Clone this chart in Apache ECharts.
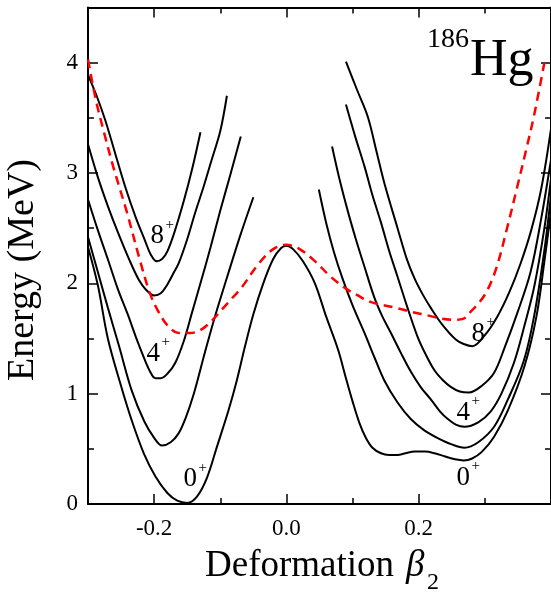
<!DOCTYPE html>
<html>
<head>
<meta charset="utf-8">
<script src="https://cdn.jsdelivr.net/npm/echarts@6/dist/echarts.min.js"></script>
<style>
html,body{margin:0;padding:0;background:#fff;}
#chart{width:551px;height:594px;}
</style>
</head>
<body>
<div id="chart"></div>
<script>
// ---- data (beta2, energy MeV) ----
var xTickLabels = [-0.2, 0.0, 0.2];
var xMinorTicks = [-0.1, 0.1, 0.3];
var yTickLabels = [0, 1, 2, 3, 4];
var yMinorTicks = [0.5, 1.5, 2.5, 3.5];

// 0+ curve across the whole range
var state0 = [[-0.3,2.33],[-0.285,1.98],[-0.27,1.5],[-0.25,1.07],[-0.234,0.76],[-0.215,0.45],[-0.198,0.25],[-0.18,0.1],[-0.165,0.03],[-0.15,0.01],[-0.135,0.07],[-0.12,0.24],[-0.105,0.52],[-0.088,0.84],[-0.075,1.12],[-0.063,1.42],[-0.05,1.72],[-0.035,2.0],[-0.02,2.22],[-0.008,2.32],[0.0,2.34],[0.01,2.31],[0.025,2.2],[0.043,2.0],[0.06,1.7],[0.078,1.4],[0.09,1.14],[0.1,0.93],[0.11,0.74],[0.12,0.6],[0.13,0.51],[0.143,0.46],[0.155,0.445],[0.168,0.445],[0.18,0.46],[0.194,0.475],[0.21,0.475],[0.224,0.46],[0.24,0.43],[0.255,0.405],[0.268,0.395],[0.28,0.41],[0.295,0.47],[0.314,0.61],[0.335,0.85],[0.36,1.25],[0.378,1.7],[0.39,2.2],[0.4,2.65]];
// left (oblate) well, 2+ .. 8+
var left2 = [[-0.3,2.42],[-0.285,2.1],[-0.27,1.78],[-0.253,1.43],[-0.234,1.03],[-0.215,0.75],[-0.2,0.6],[-0.188,0.53],[-0.175,0.56],[-0.163,0.64],[-0.153,0.77],[-0.14,1.0],[-0.123,1.38],[-0.108,1.7],[-0.09,2.05],[-0.07,2.43],[-0.05,2.78]];
var left4 = [[-0.3,2.76],[-0.285,2.48],[-0.269,2.2],[-0.255,1.95],[-0.24,1.72],[-0.228,1.52],[-0.217,1.35],[-0.207,1.21],[-0.198,1.14],[-0.19,1.14],[-0.18,1.18],[-0.168,1.28],[-0.155,1.48],[-0.143,1.73],[-0.13,2.0],[-0.115,2.32],[-0.1,2.66],[-0.085,2.98],[-0.069,3.33]];
var left6 = [[-0.3,3.26],[-0.285,2.96],[-0.27,2.7],[-0.254,2.45],[-0.238,2.22],[-0.223,2.03],[-0.212,1.94],[-0.2,1.89],[-0.19,1.91],[-0.18,1.99],[-0.17,2.1],[-0.163,2.18],[-0.15,2.4],[-0.138,2.64],[-0.125,2.88],[-0.113,3.12],[-0.1,3.38],[-0.09,3.7]];
var left8 = [[-0.3,3.89],[-0.287,3.7],[-0.274,3.48],[-0.26,3.2],[-0.244,2.88],[-0.228,2.6],[-0.214,2.39],[-0.205,2.26],[-0.196,2.2],[-0.188,2.22],[-0.18,2.29],[-0.17,2.45],[-0.155,2.75],[-0.142,3.05],[-0.13,3.37]];
// right (prolate) well, 2+ .. 8+
var right2 = [[0.049,2.85],[0.06,2.55],[0.072,2.28],[0.085,2.04],[0.1,1.8],[0.118,1.55],[0.133,1.33],[0.148,1.12],[0.168,0.92],[0.188,0.77],[0.208,0.67],[0.228,0.6],[0.25,0.54],[0.269,0.51],[0.29,0.56],[0.314,0.7],[0.335,0.95],[0.359,1.3],[0.375,1.72],[0.39,2.3],[0.4,2.8]];
var right4 = [[0.069,3.24],[0.08,2.95],[0.093,2.65],[0.105,2.4],[0.118,2.15],[0.133,1.87],[0.145,1.7],[0.158,1.55],[0.173,1.37],[0.188,1.2],[0.203,1.06],[0.218,0.95],[0.232,0.84],[0.244,0.77],[0.256,0.72],[0.269,0.7],[0.29,0.74],[0.309,0.84],[0.325,1.0],[0.344,1.28],[0.36,1.62],[0.375,1.98],[0.39,2.5],[0.4,2.95]];
var right6 = [[0.09,3.62],[0.104,3.33],[0.118,3.06],[0.13,2.8],[0.143,2.55],[0.155,2.3],[0.168,2.06],[0.183,1.78],[0.198,1.52],[0.211,1.35],[0.224,1.21],[0.237,1.12],[0.249,1.06],[0.262,1.02],[0.276,1.01],[0.295,1.07],[0.314,1.19],[0.33,1.42],[0.349,1.73],[0.369,2.1],[0.385,2.58],[0.4,3.12]];
var right8 = [[0.09,4.01],[0.107,3.75],[0.123,3.51],[0.136,3.2],[0.148,2.91],[0.168,2.5],[0.182,2.22],[0.194,2.04],[0.206,1.9],[0.218,1.78],[0.235,1.63],[0.256,1.49],[0.268,1.45],[0.281,1.43],[0.3,1.53],[0.319,1.7],[0.337,1.92],[0.354,2.18],[0.37,2.48],[0.385,2.85],[0.4,3.4]];
// red dashed curve
var redCurve = [[-0.3,4.03],[-0.288,3.66],[-0.275,3.35],[-0.262,3.06],[-0.241,2.64],[-0.222,2.22],[-0.207,1.92],[-0.195,1.76],[-0.18,1.62],[-0.163,1.55],[-0.145,1.55],[-0.129,1.58],[-0.113,1.66],[-0.098,1.76],[-0.083,1.86],[-0.068,1.96],[-0.043,2.17],[-0.02,2.31],[0.0,2.35],[0.02,2.31],[0.045,2.19],[0.065,2.07],[0.088,1.96],[0.108,1.89],[0.128,1.83],[0.164,1.78],[0.19,1.74],[0.213,1.71],[0.235,1.68],[0.254,1.67],[0.268,1.68],[0.278,1.74],[0.292,1.83],[0.304,1.94],[0.318,2.15],[0.334,2.51],[0.35,2.9],[0.362,3.2],[0.374,3.51],[0.39,4.0]];

var FONT = 'Liberation Serif';
var chart = echarts.init(document.getElementById('chart'), null, {renderer:'canvas'});

function xAx(pos, ticks, len, labels, showLine){
  return {
    type:'value', position:pos, min:-0.3, max:0.4, interval:0.1,
    splitLine:{show:false},
    axisLine:{show:showLine, onZero:false, lineStyle:{color:'#000', width:2}},
    axisTick:{show:true, inside:true, length:len, customValues:ticks, lineStyle:{color:'#000', width:1.5}},
    axisLabel:labels ? {show:true, customValues:labels, margin:13, color:'#000', fontFamily:FONT, fontSize:23,
      formatter:function(v){return v.toFixed(1);}} : {show:false}
  };
}
function yAx(pos, ticks, len, labels, showLine){
  return {
    type:'value', position:pos, min:0, max:4.5,
    splitLine:{show:false},
    axisLine:{show:showLine, onZero:false, lineStyle:{color:'#000', width:2}},
    axisTick:{show:true, inside:true, length:len, customValues:ticks, lineStyle:{color:'#000', width:1.5}},
    axisLabel:labels ? {show:true, customValues:labels, margin:10, color:'#000', fontFamily:FONT, fontSize:23,
      formatter:function(v){return String(v);}} : {show:false}
  };
}

function blackLine(data){
  return {type:'line', data:data, xAxisIndex:0, yAxisIndex:0, showSymbol:false, symbol:'none', smooth:0.35,
    lineStyle:{color:'#000', width:2}, z:3, silent:true};
}

var option = {
  backgroundColor:'#fff',
  animation:false,
  grid:{left:88, top:7.5, width:465.5, height:496.5, containLabel:false},
  xAxis:[
    xAx('bottom', xTickLabels, 10, xTickLabels, true),
    xAx('bottom', xMinorTicks, 6, null, false),
    xAx('top', xTickLabels, 10, null, true),
    xAx('top', xMinorTicks, 6, null, false)
  ],
  yAxis:[
    yAx('left', yTickLabels, 10, yTickLabels, true),
    yAx('left', yMinorTicks, 6, null, false),
    yAx('right', yTickLabels, 10, null, true),
    yAx('right', yMinorTicks, 6, null, false)
  ],
  series:[
    blackLine(state0), blackLine(left2), blackLine(left4), blackLine(left6), blackLine(left8),
    blackLine(right2), blackLine(right4), blackLine(right6), blackLine(right8),
    {type:'line', data:redCurve, xAxisIndex:0, yAxisIndex:0, showSymbol:false, symbol:'none', smooth:0.35,
      lineStyle:{color:'#ff0000', width:2.5, type:[9,6]}, z:4, silent:true}
  ]
};
chart.setOption(option);

// ---- text annotations ----
function txt(s, x, y, size, opts){
  opts = opts || {};
  return {type:'text', x:x, y:y, rotation:opts.rot||0, z:10, silent:true,
    style:{text:s, fill:'#000', font:(opts.italic?'italic ':'')+size+'px "'+FONT+'"',
      textAlign:opts.align||'left', textVerticalAlign:opts.va||'middle'}};
}
var g = [];
// state labels: digit, superscript plus
function stateLabel(d, x, y){
  g.push(txt(d, x, y, 27));
  g.push(txt('+', x+15, y-11, 15));
}
stateLabel('8', 150.5, 236);
stateLabel('4', 146.5, 353.5);
stateLabel('0', 183.5, 479);
stateLabel('8', 471.5, 333.5);
stateLabel('4', 456.5, 412.5);
stateLabel('0', 456.5, 477.5);
// nucleus label
g.push(txt('186', 427, 40, 28));
g.push(txt('Hg', 470, 61.5, 52));
// axis titles
g.push(txt('Energy (MeV)', 23.5, 270, 38, {rot:Math.PI/2, align:'center'}));
g.push(txt('Deformation ', 205, 566, 37));
g.push(txt('\u03b2', 406, 566, 37, {italic:true}));
g.push(txt('2', 427, 582.5, 24));
chart.setOption({graphic:g});
</script>
</body>
</html>
